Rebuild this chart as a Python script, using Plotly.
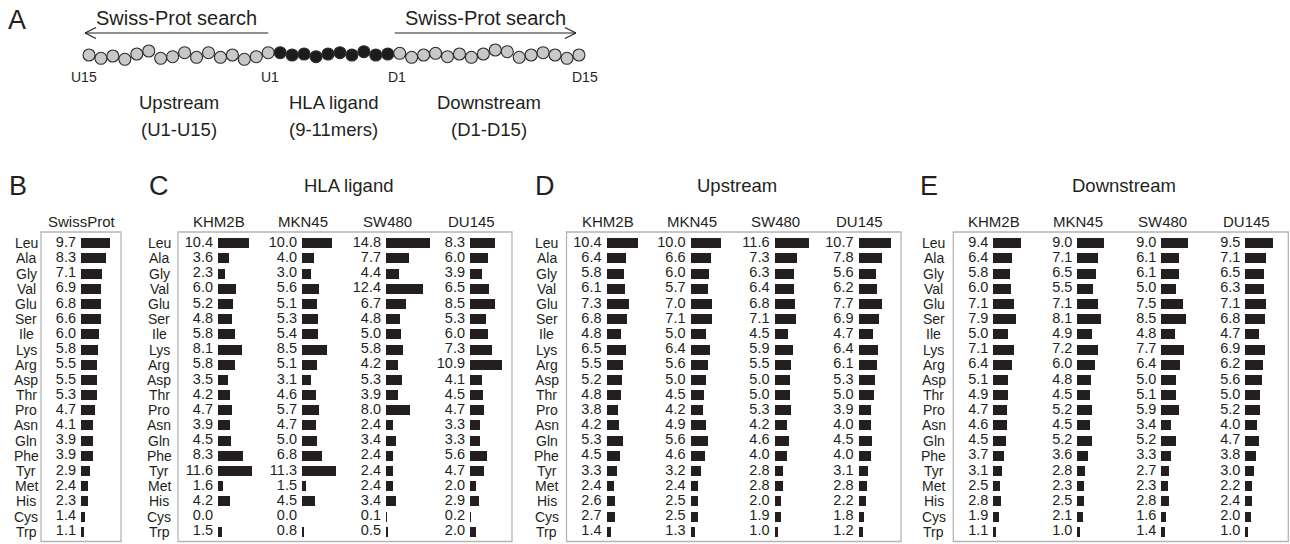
import plotly.graph_objects as go

W, H = 1290, 544

# ---------------- data ----------------
amino = ["Leu", "Ala", "Gly", "Val", "Glu", "Ser", "Ile", "Lys", "Arg", "Asp",
         "Thr", "Pro", "Asn", "Gln", "Phe", "Tyr", "Met", "His", "Cys", "Trp"]
cell_lines = ["KHM2B", "MKN45", "SW480", "DU145"]

swissprot = [9.7, 8.3, 7.1, 6.9, 6.8, 6.6, 6.0, 5.8, 5.5, 5.5, 5.3, 4.7, 4.1, 3.9, 3.9, 2.9, 2.4, 2.3, 1.4, 1.1]

hla_khm2b = [10.4, 3.6, 2.3, 6.0, 5.2, 4.8, 5.8, 8.1, 5.8, 3.5, 4.2, 4.7, 3.9, 4.5, 8.3, 11.6, 1.6, 4.2, 0.0, 1.5]
hla_mkn45 = [10.0, 4.0, 3.0, 5.6, 5.1, 5.3, 5.4, 8.5, 5.1, 3.1, 4.6, 5.7, 4.7, 5.0, 6.8, 11.3, 1.5, 4.5, 0.0, 0.8]
hla_sw480 = [14.8, 7.7, 4.4, 12.4, 6.7, 4.8, 5.0, 5.8, 4.2, 5.3, 3.9, 8.0, 2.4, 3.4, 2.4, 2.4, 2.4, 3.4, 0.1, 0.5]
hla_du145 = [8.3, 6.0, 3.9, 6.5, 8.5, 5.3, 6.0, 7.3, 10.9, 4.1, 4.5, 4.7, 3.3, 3.3, 5.6, 4.7, 2.0, 2.9, 0.2, 2.0]

up_khm2b = [10.4, 6.4, 5.8, 6.1, 7.3, 6.8, 4.8, 6.5, 5.5, 5.2, 4.8, 3.8, 4.2, 5.3, 4.5, 3.3, 2.4, 2.6, 2.7, 1.4]
up_mkn45 = [10.0, 6.6, 6.0, 5.7, 7.0, 7.1, 5.0, 6.4, 5.6, 5.0, 4.5, 4.2, 4.9, 5.6, 4.6, 3.2, 2.4, 2.5, 2.5, 1.3]
up_sw480 = [11.6, 7.3, 6.3, 6.4, 6.8, 7.1, 4.5, 5.9, 5.5, 5.0, 5.0, 5.3, 4.2, 4.6, 4.0, 2.8, 2.8, 2.0, 1.9, 1.0]
up_du145 = [10.7, 7.8, 5.6, 6.2, 7.7, 6.9, 4.7, 6.4, 6.1, 5.3, 5.0, 3.9, 4.0, 4.5, 4.0, 3.1, 2.8, 2.2, 1.8, 1.2]

down_khm2b = [9.4, 6.4, 5.8, 6.0, 7.1, 7.9, 5.0, 7.1, 6.4, 5.1, 4.9, 4.7, 4.6, 4.5, 3.7, 3.1, 2.5, 2.8, 1.9, 1.1]
down_mkn45 = [9.0, 7.1, 6.5, 5.5, 7.1, 8.1, 4.9, 7.2, 6.0, 4.8, 4.5, 5.2, 4.5, 5.2, 3.6, 2.8, 2.3, 2.5, 2.1, 1.0]
down_sw480 = [9.0, 6.1, 6.1, 5.0, 7.5, 8.5, 4.8, 7.7, 6.4, 5.0, 5.1, 5.9, 3.4, 5.2, 3.3, 2.7, 2.3, 2.8, 1.6, 1.4]
down_du145 = [9.5, 7.1, 6.5, 6.3, 7.1, 6.8, 4.7, 6.9, 6.2, 5.6, 5.0, 5.2, 4.0, 4.7, 3.8, 3.0, 2.2, 2.4, 2.0, 1.0]

# schematic peptide chain (panel A): region of each residue and its vertical wobble
chain_region = ["up"] * 16 + ["ligand"] * 10 + ["down"] * 16
chain_wobble = [0.0, 3.3, 1.0, 4.3, -1.0, -4.0, 3.3, 1.7, -2.3, 2.3, -2.3, 2.3, 0.0, 4.3, 1.7, -2.3,
                -2.3, 0.0, -1.0, 1.7, -1.0, -2.3, 0.0, -3.3, 0.0, -1.0,
                -1.7, 2.3, 0.0, -1.7, 1.7, -1.0, 2.3, -1.0, -5.0, -3.3, 2.3, 0.0, -2.3, 0.0, 3.3, 0.0]
chain_labels = {0: "U15", 15: "U1", 26: "D1", 41: "D15"}

# ---------------- layout helpers ----------------
INK = "#231f20"
FONT = "Liberation Sans, Arial, sans-serif"


def fx(px):
    return min(max(px / W, 0.0), 1.0)


def fy(py):
    return min(max(1 - py / H, 0.0), 1.0)


fig = go.Figure()
annotations = []
shapes = []
layout_axes = {}

# ---------------- panel A ----------------
X0, DX = 89.0, 11.95
BASE_Y = 55.0
ax_left, ax_right = 0.0, 600.0
layout_axes["xaxis"] = dict(domain=[fx(ax_left), fx(ax_right)],
                            range=[(ax_left - X0) / DX, (ax_right - X0) / DX],
                            visible=False, fixedrange=True, anchor="y")
layout_axes["yaxis"] = dict(domain=[fy(150), fy(0)], range=[150 - BASE_Y, -BASE_Y],
                            visible=False, fixedrange=True, anchor="x")

idx = list(range(len(chain_region)))
fills = {"up": "#c8c8c8", "ligand": "#1c1c1c", "down": "#c8c8c8"}
fig.add_trace(go.Scatter(
    x=idx, y=chain_wobble, mode="markers",
    marker=dict(size=12, color=[fills[r] for r in chain_region],
                line=dict(color="#2b2b2b", width=1.1)),
    xaxis="x", yaxis="y", hoverinfo="skip", cliponaxis=False))

for i, lab in chain_labels.items():
    shift = {0: -5, 15: 2, 26: -3, 41: 6}[i]
    annotations.append(dict(x=i, y=77 - BASE_Y, xref="x", yref="y", text=lab, showarrow=False,
                            xshift=shift, font=dict(size=14, color=INK, family=FONT),
                            xanchor="center", yanchor="middle"))

# arrows "Swiss-Prot search"
up_idx = [i for i, r in enumerate(chain_region) if r == "up"]
down_idx = [i for i, r in enumerate(chain_region) if r == "down"]
ARROW_Y = 33
for seg, direction in ((up_idx, -1), (down_idx, 1)):
    if direction == 1:
        a_px = X0 + DX * seg[0] - 5
        b_px = X0 + DX * seg[-1] - 3
    else:
        a_px = X0 + DX * seg[0] - 4
        b_px = X0 + DX * seg[-1]
    shapes.append(dict(type="line", xref="paper", yref="paper",
                       x0=fx(a_px), x1=fx(b_px), y0=fy(ARROW_Y), y1=fy(ARROW_Y),
                       line=dict(color=INK, width=1.2)))
    tip = a_px if direction == -1 else b_px
    for dy in (-5.5, 5.5):
        shapes.append(dict(type="line", xref="paper", yref="paper",
                           x0=fx(tip), y0=fy(ARROW_Y), x1=fx(tip - direction * 11), y1=fy(ARROW_Y + dy),
                           line=dict(color=INK, width=1.2)))
    annotations.append(dict(x=fx((a_px + b_px) / 2), y=fy(18), xref="paper", yref="paper",
                            text="Swiss-Prot search", showarrow=False,
                            font=dict(size=20, color=INK, family=FONT), xanchor="center", yanchor="middle"))

region_text = [("up", "Upstream", "(U1-U15)"), ("ligand", "HLA ligand", "(9-11mers)"),
               ("down", "Downstream", "(D1-D15)")]
for reg, t1, t2 in region_text:
    ii = [i for i, r in enumerate(chain_region) if r == reg]
    cx = (ii[0] + ii[-1]) / 2
    for txt, ypx in ((t1, 102), (t2, 129)):
        annotations.append(dict(x=cx, y=ypx - BASE_Y, xref="x", yref="y", text=txt, showarrow=False,
                                font=dict(size=18.5, color=INK, family=FONT), xanchor="center", yanchor="middle"))

annotations.append(dict(x=fx(6), y=fy(20), xref="paper", yref="paper", text="A", showarrow=False,
                        font=dict(size=27, color=INK, family=FONT), xanchor="left", yanchor="middle"))

# ---------------- panels B-E ----------------
S = 2.97           # pixels per percent
COL_STEP = 84.0
LEFT_PAD, RIGHT_PAD = 38.0, 46.0
TEXT_GAP = 5.0     # pixels between value label and bar start
BOX_TOP, BOX_BOT = 232.0, 541.5
ROW0, ROW_STEP = 243.3, 15.18
y_range = [(BOX_BOT - ROW0) / ROW_STEP, (BOX_TOP - ROW0) / ROW_STEP]

panels = [
    dict(letter="B", title=None, box=(41, 121), letter_x=7, label_off=15,
         cols=[("SwissProt", swissprot)]),
    dict(letter="C", title="HLA ligand", box=(178, 512), letter_x=147, label_off=19,
         cols=list(zip(cell_lines, [hla_khm2b, hla_mkn45, hla_sw480, hla_du145]))),
    dict(letter="D", title="Upstream", box=(566.5, 901), letter_x=533, label_off=20,
         cols=list(zip(cell_lines, [up_khm2b, up_mkn45, up_sw480, up_du145]))),
    dict(letter="E", title="Downstream", box=(953.3, 1288.3), letter_x=918, label_off=19.5,
         cols=list(zip(cell_lines, [down_khm2b, down_mkn45, down_sw480, down_du145]))),
]

k = 1
for p in panels:
    bl, br = p["box"]
    first_axis = None
    for j, (name, vals) in enumerate(p["cols"]):
        k += 1
        xs = bl + 40 + COL_STEP * j
        xa, ya = f"x{k}", f"y{k}"
        left_px = xs - LEFT_PAD
        right_px = min(xs + RIGHT_PAD, W)
        layout_axes[f"xaxis{k}"] = dict(domain=[fx(left_px), fx(right_px)],
                                        range=[(left_px - xs) / S, (right_px - xs) / S],
                                        visible=False, fixedrange=True, anchor=ya)
        layout_axes[f"yaxis{k}"] = dict(domain=[fy(BOX_BOT), fy(BOX_TOP)], type="category",
                                        categoryorder="array", categoryarray=amino,
                                        range=y_range, visible=False, fixedrange=True, anchor=xa)
        if first_axis is None:
            first_axis = ya
        fig.add_trace(go.Bar(x=vals, y=amino, orientation="h", width=0.66,
                             marker=dict(color=INK, line=dict(width=0)),
                             xaxis=xa, yaxis=ya, hoverinfo="skip"))
        fig.add_trace(go.Scatter(x=[-TEXT_GAP / S] * len(vals), y=amino, mode="text",
                                 text=[f"{v:.1f}" for v in vals], textposition="middle left",
                                 textfont=dict(size=14.5, color=INK, family=FONT),
                                 xaxis=xa, yaxis=ya, hoverinfo="skip", cliponaxis=False))
        annotations.append(dict(x=fx(xs + 1), y=fy(221), xref="paper", yref="paper", text=name,
                                showarrow=False, font=dict(size=15, color=INK, family=FONT),
                                xanchor="center", yanchor="middle"))
    for aa in amino:
        annotations.append(dict(x=fx(bl - p["label_off"]), y=aa, xref="paper", yref=first_axis,
                                text=aa, showarrow=False, font=dict(size=14, color=INK, family=FONT),
                                xanchor="center", yanchor="middle"))
    shapes.append(dict(type="rect", xref="paper", yref="paper", x0=fx(bl), x1=fx(br),
                       y0=fy(BOX_BOT), y1=fy(BOX_TOP), line=dict(color="#b5b5b5", width=1.3)))
    annotations.append(dict(x=fx(p["letter_x"]), y=fy(186), xref="paper", yref="paper",
                            text=p["letter"], showarrow=False,
                            font=dict(size=27, color=INK, family=FONT), xanchor="left", yanchor="middle"))
    if p["title"]:
        annotations.append(dict(x=fx((bl + br) / 2 + 3), y=fy(185), xref="paper", yref="paper",
                                text=p["title"], showarrow=False,
                                font=dict(size=18.5, color=INK, family=FONT),
                                xanchor="center", yanchor="middle"))

fig.update_layout(width=W, height=H, margin=dict(l=0, r=0, t=0, b=0),
                  paper_bgcolor="white", plot_bgcolor="rgba(0,0,0,0)",
                  showlegend=False, bargap=0, annotations=annotations, shapes=shapes,
                  font=dict(family=FONT, color=INK), **layout_axes)

fig.write_html("out.html", config={"displayModeBar": False},
               post_script="document.body.style.margin='0';document.body.style.padding='0';")
